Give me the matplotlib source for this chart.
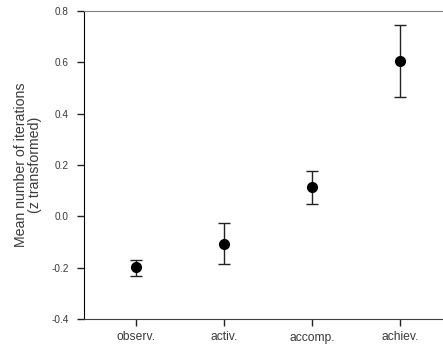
import matplotlib
matplotlib.use("Agg")
import matplotlib.pyplot as plt

plt.rcParams['font.family'] = ['Liberation Sans', 'DejaVu Sans']

categories = ["observ.", "activ.", "accomp.", "achiev."]
means = [-0.197, -0.106, 0.114, 0.604]
err_low = [0.037, 0.081, 0.067, 0.141]
err_high = [0.028, 0.080, 0.062, 0.140]

fig = plt.figure(figsize=(4.43, 3.47), dpi=100)
# axes runs off the right edge like the original
ax = fig.add_axes([84 / 443, 28 / 347, 369 / 443, 308 / 347])

x = list(range(1, len(categories) + 1))
ax.errorbar(x, means, yerr=[err_low, err_high], fmt='o', color='black',
            ecolor='#222222', elinewidth=1, capsize=4, capthick=1, markersize=7)

ax.set_xlim(0.41, 4.6)
ax.set_ylim(-0.4, 0.8)
ax.set_yticks([-0.4, -0.2, 0.0, 0.2, 0.4, 0.6, 0.8])
ax.set_yticklabels(["-0.4", "-0.2", "0.0", "0.2", "0.4", "0.6", "0.8"])
ax.set_xticks(x)
ax.set_xticklabels(categories)
ax.tick_params(direction='out', length=5, width=1, colors='#222222', labelcolor='#3a3a3a')
ax.tick_params(axis='y', labelsize=7.2, pad=6)
ax.tick_params(axis='x', labelsize=8.7, pad=4)

ax.spines['right'].set_visible(False)
ax.spines['top'].set_color('#808080')
ax.spines['left'].set_color('black')
ax.spines['bottom'].set_color('#404040')

ax.set_ylabel("Mean number of iterations\n(z transformed)", fontsize=10.2, color='#3a3a3a',
              labelpad=7, linespacing=1.0)

fig.savefig("out.png", dpi=100)
